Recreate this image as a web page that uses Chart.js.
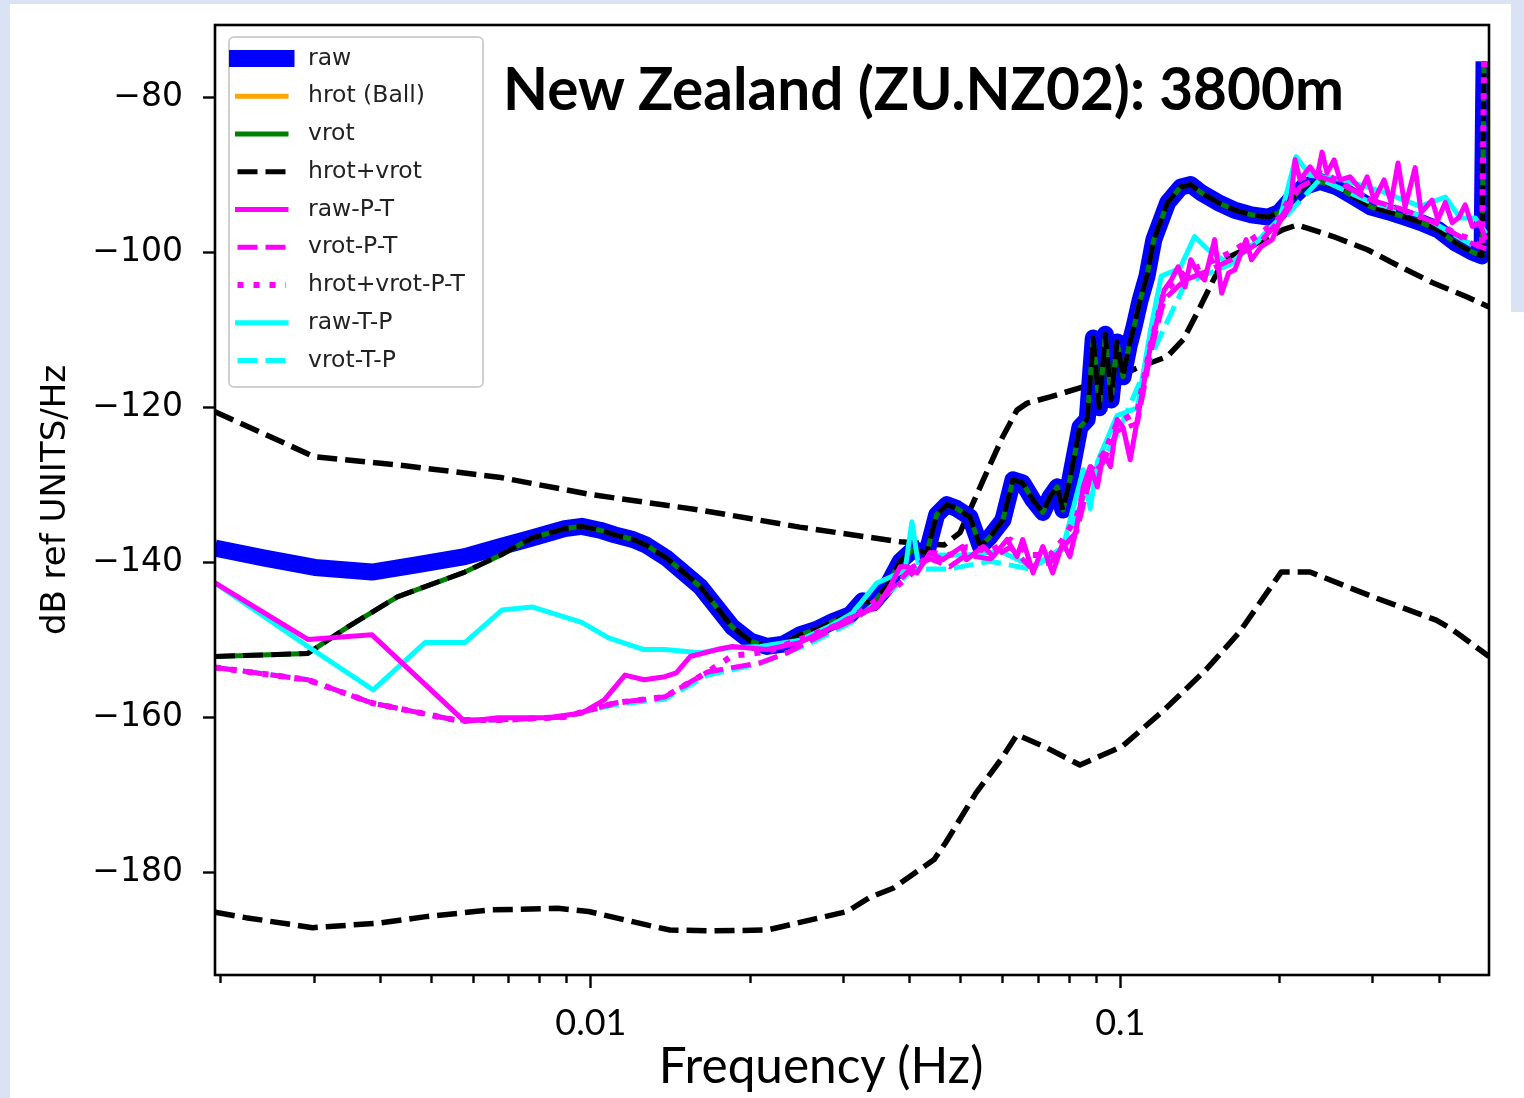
<!DOCTYPE html>
<html>
<head>
<meta charset="utf-8">
<title>ZU.NZ02 PSD</title>
<script src="https://cdn.jsdelivr.net/npm/chart.js@4.4.1/dist/chart.umd.min.js"></script>
<style>
  html, body { margin: 0; padding: 0; }
  body { width: 1524px; height: 1098px; background: #dae3f3; position: relative; overflow: hidden; }
  .sheet { position: absolute; background: #fff; }
  #wrap { position: absolute; left: 0; top: 0; width: 1524px; height: 1098px; }
  .note { position: absolute; color: #000; white-space: nowrap; font-family: Lato, "Open Sans", sans-serif; }
  #title { left: 503px; top: 58px; font-size: 58.5px; line-height: 58.5px; font-weight: 700; }
  #xlabel { left: 821px; top: 1040px; font-size: 49.5px; line-height: 49.5px; transform: translateX(-50%); }
</style>
</head>
<body>
<div class="sheet" style="left:10px;top:4px;width:1501px;height:1094px"></div>
<div class="sheet" style="left:1440px;top:312px;width:84px;height:786px"></div>
<div id="wrap"><canvas id="psd" width="1524" height="1098"></canvas></div>
<div class="note" id="title">New Zealand (ZU.NZ02): 3800m</div>
<div class="note" id="xlabel">Frequency (Hz)</div>
<script>
// [frequency Hz, dB] pairs

// low-frequency parts, where raw and vrot still differ
const rawLow = [[0.00195,-138.1],[0.00242,-139.4],[0.00301,-140.6],[0.00386,-141.2],[0.00465,-140.3],
  [0.00578,-139.2],[0.00676,-137.9]];
const vrotLow = [[0.00195,-152.1],[0.00292,-151.7],[0.00347,-148.3],[0.00431,-144.4],[0.00578,-141.2],
  [0.00676,-139.0]];

// above ~0.0077 Hz raw, vrot and hrot+vrot sit on one trace
const sharedHigh = [[0.00774,-136.8],[0.00892,-135.6],[0.00961,-135.3],[0.0104,-135.8],[0.0111,-136.4],
  [0.012,-137.0],[0.0127,-137.7],[0.0139,-139.4],[0.0161,-143.1],[0.0185,-148.3],[0.02,-150.1],
  [0.0215,-150.8],[0.0231,-150.5],[0.0248,-149.3],[0.0267,-148.6],[0.0286,-147.6],[0.0309,-146.7],
  [0.0326,-144.9],[0.0341,-145.2],[0.0362,-143.1],[0.0384,-139.8],[0.0406,-138.3],[0.0431,-138.7],
  [0.045,-133.8],[0.047,-132.5],[0.0491,-133.0],[0.052,-134.1],[0.0544,-137.9],[0.0568,-136.6],
  [0.06,-134.5],[0.0627,-129.3],[0.0654,-129.7],[0.0684,-131.9],[0.0714,-133.5],[0.0737,-131.5],
  [0.076,-130.2],[0.0779,-133.2],[0.0803,-129.3],[0.0839,-122.5],[0.0866,-121.5],[0.0889,-111.0],
  [0.0913,-120.0],[0.0937,-110.5],[0.0961,-119.0],[0.0986,-111.5],[0.1012,-116.0],[0.1039,-112.0],
  [0.1062,-109.5],[0.109,-106.1],[0.1123,-103.0],[0.1157,-98.3],[0.1229,-93.5],[0.1301,-91.5],
  [0.1358,-91.2],[0.1426,-92.3],[0.1529,-93.5],[0.1645,-94.5],[0.1769,-95.1],[0.1902,-95.4],
  [0.1995,-94.8],[0.2092,-93.2],[0.2215,-91.5],[0.2384,-90.8],[0.2567,-91.5],[0.2765,-92.8],
  [0.2977,-94.1],[0.3204,-94.7],[0.345,-95.4],[0.37,-96.1],[0.398,-97.0],[0.429,-98.7],
  [0.4622,-99.9],[0.4822,-100.4],[0.4864,-75.3]];

const rawPT = [[0.00195,-142.6],[0.00292,-149.9],[0.00386,-149.3],[0.00578,-160.5],[0.00667,-160.0],
  [0.00829,-160.0],[0.00961,-159.4],[0.0106,-157.7],[0.0116,-154.5],[0.0126,-155.1],[0.0138,-154.7],
  [0.0145,-154.2],[0.0154,-152.1],[0.0173,-151.2],[0.0185,-150.8],[0.0215,-151.2],[0.0248,-150.3],
  [0.0286,-148.3],[0.0312,-147.0],[0.0347,-145.7],[0.0367,-143.1],[0.0384,-140.5],[0.0396,-140.5],
  [0.0413,-141.3],[0.0437,-138.7],[0.0462,-139.6],[0.0503,-137.9],[0.0512,-139.6],[0.0551,-137.9],
  [0.0575,-139.2],[0.0611,-137.0],[0.0638,-139.2],[0.0654,-137.0],[0.0684,-141.3],[0.0714,-137.9],
  [0.0745,-141.3],[0.0779,-137.4],[0.0803,-139.2],[0.0827,-135.4],[0.0851,-130.2],[0.0877,-127.6],
  [0.0905,-130.2],[0.0929,-125.8],[0.0958,-127.6],[0.0986,-121.5],[0.1012,-122.5],[0.1044,-126.7],
  [0.1077,-121.5],[0.1105,-117.3],[0.114,-112.1],[0.1175,-108.6],[0.121,-104.8],[0.1248,-103.5],
  [0.1286,-101.8],[0.1325,-104.4],[0.1358,-100.9],[0.1401,-102.6],[0.1443,-103.5],[0.1507,-98.3],
  [0.1554,-105.2],[0.1601,-102.6],[0.1645,-102.2],[0.1728,-98.3],[0.1769,-100.9],[0.1845,-99.2],
  [0.1936,-98.3],[0.1995,-96.1],[0.2092,-94.1],[0.2138,-88.0],[0.2185,-90.6],[0.2282,-88.9],
  [0.2353,-90.2],[0.2405,-87.0],[0.2457,-89.7],[0.2534,-88.0],[0.26,-90.6],[0.2716,-90.2],
  [0.285,-91.9],[0.2926,-90.2],[0.3016,-93.2],[0.315,-90.6],[0.3247,-93.5],[0.3346,-88.4],
  [0.345,-94.1],[0.3605,-89.0],[0.37,-94.8],[0.388,-93.2],[0.398,-95.7],[0.411,-93.5],
  [0.4235,-96.1],[0.4364,-95.4],[0.448,-93.8],[0.4622,-96.6],[0.4762,-96.1],[0.4908,-98.3]];

const vrotPT = [[0.00195,-153.5],[0.00292,-155.1],[0.00386,-158.1],[0.00554,-160.3],[0.00667,-160.3],
  [0.00892,-159.9],[0.0111,-158.1],[0.0138,-157.3],[0.0166,-154.1],[0.0209,-152.9],[0.0235,-151.6],
  [0.0256,-150.3],[0.0286,-148.6],[0.0312,-147.4],[0.0341,-145.7],[0.0372,-143.1],[0.0406,-140.5],
  [0.0437,-139.5],[0.0476,-140.5],[0.0512,-139.0],[0.0568,-139.5],[0.062,-138.0],[0.0675,-140.5],
  [0.0737,-140.0],[0.0779,-138.0],[0.0827,-136.0],[0.0877,-129.0],[0.0929,-127.0],[0.0986,-123.0],
  [0.1077,-122.0],[0.114,-113.0],[0.121,-106.0],[0.1325,-103.5],[0.1443,-102.5],[0.1609,-101.0],
  [0.1845,-98.5],[0.1995,-95.8],[0.2185,-91.5],[0.2384,-90.2],[0.26,-91.0],[0.2977,-93.2],
  [0.345,-94.5],[0.398,-96.3],[0.4622,-98.8],[0.4908,-99.5]];

const hvPT = [[0.00195,-153.5],[0.00292,-155.1],[0.00386,-158.1],[0.00554,-160.3],[0.00667,-160.3],
  [0.00892,-159.9],[0.0111,-158.1],[0.0138,-157.3],[0.0166,-154.1],[0.0185,-152.0],[0.0215,-151.5],
  [0.0248,-149.9],[0.0286,-148.3],[0.0312,-147.0],[0.0347,-144.8],[0.0372,-143.5],[0.0406,-141.2],
  [0.0437,-138.7],[0.0476,-139.0],[0.0512,-138.0],[0.0568,-138.5],[0.062,-137.0],[0.0675,-139.0],
  [0.0737,-139.0],[0.0779,-137.0],[0.0827,-134.0],[0.0877,-128.0],[0.0929,-126.0],[0.0986,-122.0],
  [0.1077,-120.5],[0.114,-112.0],[0.121,-105.0],[0.1325,-102.5],[0.1443,-101.5],[0.1609,-100.0],
  [0.1845,-97.5],[0.1995,-95.5],[0.2092,-92.8],[0.2215,-90.2],[0.2384,-89.7],[0.2567,-90.6],
  [0.2765,-92.0],[0.2977,-93.2],[0.3204,-94.0],[0.345,-94.6],[0.37,-95.4],[0.398,-96.1],
  [0.429,-97.5],[0.4622,-98.3],[0.4822,-99.6],[0.4864,-75.3]];

const rawTP = [[0.00195,-142.6],[0.00292,-150.8],[0.00388,-156.4],[0.00486,-150.3],[0.00578,-150.3],
  [0.00679,-146.1],[0.00774,-145.7],[0.00961,-147.7],[0.0108,-149.7],[0.0126,-151.2],[0.0138,-151.2],
  [0.0161,-151.6],[0.0181,-151.0],[0.0209,-150.8],[0.0248,-150.0],[0.0286,-148.0],[0.0312,-146.5],
  [0.0347,-142.6],[0.0392,-141.0],[0.0404,-134.7],[0.0415,-140.0],[0.0456,-139.0],[0.0512,-139.0],
  [0.0593,-138.5],[0.0684,-140.5],[0.0779,-138.0],[0.0851,-128.0],[0.0877,-133.0],[0.0905,-127.0],
  [0.0986,-121.0],[0.1077,-120.0],[0.114,-110.0],[0.1195,-103.0],[0.1296,-102.0],[0.1381,-97.9],
  [0.1465,-99.6],[0.1609,-101.5],[0.1845,-98.0],[0.2004,-95.5],[0.2147,-87.6],[0.2282,-90.0],
  [0.26,-90.5],[0.3097,-92.0],[0.3685,-94.0],[0.411,-92.8],[0.4384,-95.5],[0.468,-95.5],
  [0.4908,-97.5]];

const vrotTP = [[0.00195,-153.5],[0.00292,-155.1],[0.00386,-158.1],[0.00554,-160.3],[0.00667,-160.3],
  [0.00892,-159.9],[0.0111,-158.3],[0.0138,-157.6],[0.0166,-154.5],[0.0209,-153.0],[0.0256,-150.6],
  [0.0312,-147.6],[0.0372,-143.4],[0.0406,-140.8],[0.0476,-140.8],[0.0568,-139.8],[0.0675,-140.8],
  [0.0779,-138.3],[0.0877,-129.5],[0.0986,-123.5],[0.114,-113.5],[0.1325,-104.0],[0.1609,-101.5],
  [0.1995,-96.2],[0.2384,-90.5],[0.2977,-93.5],[0.37,-95.2],[0.4622,-99.0]];

// hrot (Ball) has no trace visible in the plot
const hrot = [];

// the two unlabelled black dashed curves (high / low noise model)
const noiseHigh = [[0.00195,-120.5],[0.003,-126.3],[0.00436,-127.4],[0.00676,-129.0],[0.01,-131.2],
  [0.0161,-133.2],[0.0248,-135.4],[0.0384,-137.3],[0.0465,-137.7],[0.0498,-136.1],[0.0551,-129.3],
  [0.06,-123.7],[0.0638,-120.3],[0.0667,-119.4],[0.0737,-118.6],[0.0851,-117.3],[0.0986,-116.0],
  [0.109,-114.7],[0.1226,-113.4],[0.1315,-111.2],[0.1398,-107.7],[0.1565,-100.9],[0.1761,-99.2],
  [0.203,-97.0],[0.216,-96.4],[0.2525,-97.9],[0.293,-99.6],[0.338,-101.8],[0.39,-103.9],
  [0.452,-105.7],[0.497,-107.0]];
const noiseLow = [[0.00195,-185.1],[0.00223,-185.8],[0.00298,-187.1],[0.00398,-186.5],[0.00484,-185.7],
  [0.00647,-184.8],[0.00866,-184.6],[0.0099,-185.0],[0.0116,-186.1],[0.0141,-187.4],[0.0171,-187.5],
  [0.0215,-187.4],[0.0228,-187.0],[0.0305,-185.0],[0.0336,-183.2],[0.0372,-182.0],[0.0445,-178.3],
  [0.0468,-176.1],[0.0534,-169.7],[0.0595,-165.4],[0.0638,-162.2],[0.0727,-163.9],[0.0839,-166.1],
  [0.1008,-163.7],[0.121,-159.0],[0.1452,-153.8],[0.1677,-149.0],[0.2013,-141.2],[0.2282,-141.2],
  [0.3,-144.4],[0.395,-147.4],[0.4235,-148.6],[0.497,-152.1]];

const xTickValues = [0.002, 0.003, 0.004, 0.005, 0.006, 0.007, 0.008, 0.009, 0.01,
  0.02, 0.03, 0.04, 0.05, 0.06, 0.07, 0.08, 0.09, 0.1, 0.2, 0.3, 0.4];
const xTickLabels = { 0.01: '0.01', 0.1: '0.1' };
const yTickValues = [-180, -160, -140, -120, -100, -80];

const toXY = pts => pts.map(([x, y]) => ({ x, y }));

function series(label, pts, color, width, dash, order, showInLegend = true) {
  return {
    label,
    data: toXY(pts),
    borderColor: color,
    borderWidth: width,
    borderDash: dash,
    borderCapStyle: 'butt',
    borderJoinStyle: 'round',
    pointRadius: 0,
    tension: 0,
    fill: false,
    clip: 0,
    order,
    showInLegend
  };
}

const DASH = [20, 8];
const datasets = [
  series('raw', [...rawLow, ...sharedHigh], '#0000ff', 17, [], 9),
  series('hrot (Ball)', hrot, '#ffa500', 5, [], 8),
  series('vrot', [...vrotLow, ...sharedHigh], '#008000', 5, [], 7),
  series('hrot+vrot', [...vrotLow, ...sharedHigh], '#000000', 5, DASH, 6),
  series('raw-P-T', rawPT, '#ff00ff', 5, [], 3),
  series('vrot-P-T', vrotPT, '#ff00ff', 5, DASH, 2),
  series('hrot+vrot-P-T', hvPT, '#ff00ff', 6, [6, 10], 1),
  series('raw-T-P', rawTP, '#00ffff', 5, [], 5),
  series('vrot-T-P', vrotTP, '#00ffff', 5, DASH, 4),
  series('high noise', noiseHigh, '#000000', 5.5, DASH, 11, false),
  series('low noise', noiseLow, '#000000', 5.5, DASH, 10, false)
];

// axes frame + matplotlib-like legend in the upper left corner
const frameAndLegend = {
  id: 'frameAndLegend',
  afterDatasetsDraw(chart) {
    const { ctx, chartArea: a } = chart;
    ctx.save();
    ctx.strokeStyle = '#000';
    ctx.lineWidth = 2.6;
    ctx.strokeRect(a.left, a.top, a.right - a.left, a.bottom - a.top);

    ctx.beginPath();
    ctx.roundRect(229, 37, 254, 350, 5);
    ctx.fillStyle = 'rgba(255,255,255,0.8)';
    ctx.fill();
    ctx.strokeStyle = '#d0d0d0';
    ctx.lineWidth = 2;
    ctx.stroke();

    ctx.font = '23.5px "DejaVu Sans"';
    ctx.textBaseline = 'middle';
    chart.data.datasets.filter(d => d.showInLegend).forEach((d, i) => {
      const y = 58.5 + i * 37.75;
      ctx.beginPath();
      ctx.setLineDash(d.borderDash);
      ctx.lineCap = d.borderDash.length ? 'butt' : 'square';
      ctx.lineWidth = d.borderWidth;
      ctx.strokeStyle = d.borderColor;
      ctx.moveTo(237.5, y);
      ctx.lineTo(286, y);
      ctx.stroke();
      ctx.setLineDash([]);
      ctx.fillStyle = '#222';
      ctx.fillText(d.label, 308, y);
    });
    ctx.restore();
  }
};

new Chart(document.getElementById('psd'), {
  type: 'line',
  data: { datasets },
  options: {
    responsive: false,
    animation: false,
    events: [],
    layout: { padding: { left: 0, top: 25, right: 35, bottom: 0 } },
    plugins: { legend: { display: false }, tooltip: { enabled: false } },
    scales: {
      x: {
        type: 'logarithmic',
        min: 0.00195,
        max: 0.497,
        bounds: 'data',
        afterBuildTicks: s => { s.ticks = xTickValues.map(v => ({ value: v })); },
        afterFit: s => { s.height = 123; s.paddingLeft = 0; s.paddingRight = 0; },
        border: { display: false },
        grid: {
          drawOnChartArea: false,
          tickLength: 13,
          tickWidth: 2.4,
          tickColor: '#000',
          tickBorderDash: c => (xTickLabels[c.tick.value] ? [] : [8, 40])
        },
        ticks: {
          autoSkip: false,
          maxRotation: 0,
          minRotation: 0,
          padding: 14,
          color: '#000',
          font: { family: 'Lato', size: 36 },
          callback: v => xTickLabels[v] || ''
        }
      },
      y: {
        type: 'linear',
        min: -193.2,
        max: -70.6,
        bounds: 'data',
        afterBuildTicks: s => { s.ticks = yTickValues.map(v => ({ value: v })); },
        afterFit: s => { s.width = 215; s.paddingTop = 0; s.paddingBottom = 0; },
        border: { display: false },
        grid: { drawOnChartArea: false, tickLength: 12, tickWidth: 2.4, tickColor: '#000' },
        ticks: {
          padding: 20,
          color: '#000',
          font: { family: 'DejaVu Sans', size: 33 },
          callback: v => '\u2212' + Math.abs(v)
        },
        title: {
          display: true,
          text: 'dB ref UNITS/Hz',
          color: '#000',
          font: { family: 'DejaVu Sans', size: 34 },
          padding: { top: 36, bottom: 0 }
        }
      }
    }
  },
  plugins: [frameAndLegend]
});
</script>
</body>
</html>
